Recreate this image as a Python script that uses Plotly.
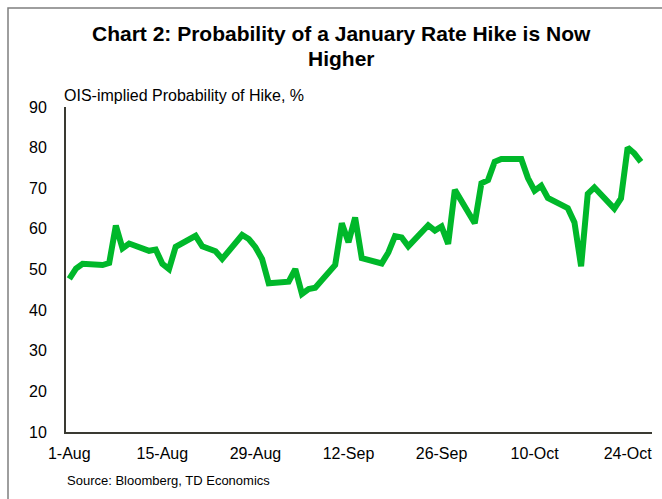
import plotly.graph_objects as go

dates = [
    "2018-08-01", "2018-08-02", "2018-08-03",
    "2018-08-06", "2018-08-07", "2018-08-08", "2018-08-09", "2018-08-10",
    "2018-08-13", "2018-08-14", "2018-08-15", "2018-08-16", "2018-08-17",
    "2018-08-20", "2018-08-21", "2018-08-22", "2018-08-23", "2018-08-24",
    "2018-08-27", "2018-08-28", "2018-08-29", "2018-08-30", "2018-08-31",
    "2018-09-03", "2018-09-04", "2018-09-05", "2018-09-06", "2018-09-07",
    "2018-09-10", "2018-09-11", "2018-09-12", "2018-09-13", "2018-09-14",
    "2018-09-17", "2018-09-18", "2018-09-19", "2018-09-20", "2018-09-21",
    "2018-09-24", "2018-09-25", "2018-09-26", "2018-09-27", "2018-09-28",
    "2018-10-01", "2018-10-02", "2018-10-03", "2018-10-04", "2018-10-05",
    "2018-10-08", "2018-10-09", "2018-10-10", "2018-10-11", "2018-10-12",
    "2018-10-15", "2018-10-16", "2018-10-17", "2018-10-18", "2018-10-19",
    "2018-10-22", "2018-10-23", "2018-10-24", "2018-10-25", "2018-10-26",
]
probability = [
    47.7, 50.2, 51.4,
    51.1, 51.6, 60.8, 55.2, 56.4,
    54.6, 54.9, 51.4, 50.1, 55.6,
    58.3, 55.7, 55.1, 54.5, 52.6,
    58.5, 57.5, 55.5, 52.6, 46.6,
    47.0, 50.1, 44.0, 45.2, 45.5,
    51.1, 61.4, 56.7, 62.8, 52.8,
    51.5, 54.2, 58.2, 57.9, 55.7,
    60.9, 59.6, 60.6, 56.3, 69.6,
    61.4, 71.2, 72.0, 76.5, 77.2,
    77.2, 72.5, 69.4, 70.6, 67.6,
    65.1, 61.6, 50.8, 68.6, 70.2,
    65.0, 67.5, 80.0, 78.6, 76.5,
]
x_tick_vals = ["2018-08-01", "2018-08-15", "2018-08-29", "2018-09-12",
               "2018-09-26", "2018-10-10", "2018-10-24"]
x_tick_text = ["1-Aug", "15-Aug", "29-Aug", "12-Sep", "26-Sep", "10-Oct", "24-Oct"]
y_tick_vals = [10, 20, 30, 40, 50, 60, 70, 80, 90]

title_lines = ["Chart 2: Probability of a January Rate Hike is Now", "Higher"]
y_label = "OIS-implied Probability of Hike, %"
source_text = "Source: Bloomberg, TD Economics"

W, H = 662, 499
L, R, T, B = 66, 10, 107, 67

fig = go.Figure()
fig.add_trace(go.Scatter(
    x=dates, y=probability, mode="lines",
    line=dict(color="#00B82A", width=6),
    hoverinfo="skip", showlegend=False,
))

font_family = "Liberation Sans, Arial, sans-serif"

fig.update_layout(
    width=W, height=H,
    margin=dict(l=L, r=R, t=T, b=B, pad=0),
    paper_bgcolor="white", plot_bgcolor="white",
    font=dict(family=font_family, size=16, color="black"),
    xaxis=dict(
        type="date",
        range=["2018-07-31 12:00", "2018-10-27 16:00"],
        tickvals=x_tick_vals, ticktext=x_tick_text,
        showgrid=False, zeroline=False,
        showline=True, linecolor="#3a3a32", linewidth=2,
        ticks="", ticklabelstandoff=6,
        tickfont=dict(size=16),
    ),
    yaxis=dict(
        range=[10, 90],
        tickvals=y_tick_vals,
        showgrid=False, zeroline=False,
        showline=True, linecolor="#3a3a32", linewidth=2,
        ticks="", ticklabelstandoff=14,
        tickfont=dict(size=16),
    ),
)

plot_w = W - L - R
plot_h = H - T - B

def px_x(p):
    return (p - L) / plot_w

def px_y(p):
    return (H - B - p) / plot_h

for line_text, yc in zip(title_lines, [34, 58]):
    fig.add_annotation(
        text="<b>" + line_text + "</b>", xref="paper", yref="paper",
        x=px_x(341), y=px_y(yc), xanchor="center", yanchor="middle",
        showarrow=False, font=dict(size=21, color="black"),
    )

fig.add_annotation(
    text=y_label, xref="paper", yref="paper",
    x=px_x(62), y=px_y(95), xanchor="left", yanchor="middle",
    showarrow=False, font=dict(size=16, color="black"),
)
fig.add_annotation(
    text=source_text, xref="paper", yref="paper",
    x=px_x(65), y=px_y(480), xanchor="left", yanchor="middle",
    showarrow=False, font=dict(size=13, color="black"),
)
fig.add_shape(
    type="rect", xref="paper", yref="paper",
    x0=px_x(8), x1=px_x(700), y0=px_y(560), y1=px_y(8),
    line=dict(color="#7f7f7f", width=1.5), fillcolor="rgba(0,0,0,0)",
)

fig.write_html("out.html")
